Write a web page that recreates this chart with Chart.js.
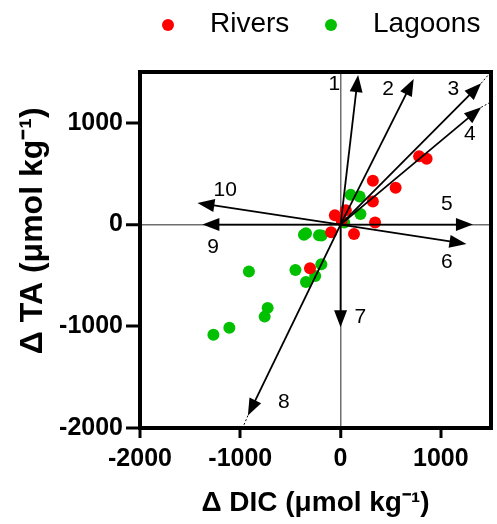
<!DOCTYPE html>
<html><head><meta charset="utf-8">
<script src="https://cdn.jsdelivr.net/npm/chart.js@4/dist/chart.umd.min.js"></script>
<style>html,body{margin:0;padding:0;background:#fff}#wrap{width:497px;height:524px;position:relative}</style>
</head><body><div id="wrap"><canvas id="c"></canvas></div>
<script>
// ---- data ----
const seriesNames = ['Rivers', 'Lagoons'];
const riversDIC = [783, 858, 322, 549, 322, 344, -57, 52, 10, -94, 134, -305];
const riversTA  = [672, 648, 430, 362, 227, 20, 92, 140, 40, -76, -92, -430];
const lagoonsDIC = [101, 190, 198, 36, -345, -365, -215, -190, -914, -450, -192, -253, -345, -727, -757, -1109, -1268];
const lagoonsTA  = [292, 275, 105, 20, -85, -100, -105, -108, -462, -447, -390, -505, -565, -819, -905, -1015, -1083];
const arrowNames = ['1','2','3','4','5','6','7','8','9','10'];
const arrowDIC = [175, 729, 1402, 1402, 1320, 1255, 0, -924, -1378, -1427];
const arrowTA  = [1470, 1432, 1389, 1153, 0, -190, -1010, -1878, 0, 213];
const extDIC = [null, null, 1480, 1480, null, null, null, -975, null, null];
const extTA  = [null, null, 1480, 1195, null, null, null, -1995, null, null];
const labelDIC = [-61, 475, 1125, 1288, 1060, 1060, 198, -566, -1271, -1151];
const labelTA  = [1383, 1334, 1334, 892, 203, -370, -911, -1747, -223, 334];
const xTicks = [-2000, -1000, 0, 1000];
const yTicks = [-2000, -1000, 0, 1000];
const xTitle = 'Δ DIC (μmol kg⁻¹)';
const yTitle = '\u2002\u2002\u2009Δ TA (μmol kg⁻¹)';

const FONT = '"Liberation Sans", Arial, sans-serif';
const toPts = (xs, ys) => xs.map((x, i) => ({x, y: ys[i]}));

const framePlugin = {
  id: 'frame',
  beforeDatasetsDraw(chart) {
    const {ctx, chartArea: a} = chart;
    ctx.save();
    ctx.strokeStyle = '#000'; ctx.lineWidth = 4; ctx.lineCap = 'square';
    ctx.beginPath();
    ctx.moveTo(a.left, a.top); ctx.lineTo(a.right, a.top); ctx.lineTo(a.right, a.bottom);
    ctx.stroke();
    ctx.restore();
  }
};

const arrowPlugin = {
  id: 'arrows',
  afterDatasetsDraw(chart) {
    const {ctx} = chart;
    const xs = chart.scales.x, ys = chart.scales.y;
    const ox = xs.getPixelForValue(0), oy = ys.getPixelForValue(0);
    ctx.save();
    arrowNames.forEach((name, i) => {
      const tx = xs.getPixelForValue(arrowDIC[i]), ty = ys.getPixelForValue(arrowTA[i]);
      const ang = Math.atan2(ty - oy, tx - ox);
      const L = 17, W = 6.5;
      const c = Math.cos(ang), s = Math.sin(ang);
      const bx = tx - L * c, by = ty - L * s;
      ctx.strokeStyle = '#000'; ctx.fillStyle = '#000';
      ctx.lineWidth = 1.8; ctx.setLineDash([]);
      ctx.beginPath(); ctx.moveTo(ox, oy); ctx.lineTo(bx + 2 * c, by + 2 * s); ctx.stroke();
      ctx.beginPath();
      ctx.moveTo(tx, ty);
      ctx.lineTo(bx - W * s, by + W * c);
      ctx.lineTo(bx + W * s, by - W * c);
      ctx.closePath(); ctx.fill();
      if (extDIC[i] !== null) {
        const ex = xs.getPixelForValue(extDIC[i]), ey = ys.getPixelForValue(extTA[i]);
        ctx.lineWidth = 1; ctx.setLineDash([2, 2]);
        ctx.beginPath(); ctx.moveTo(tx, ty); ctx.lineTo(ex, ey); ctx.stroke();
        ctx.setLineDash([]);
      }
      ctx.font = '21px ' + FONT;
      ctx.textAlign = 'center'; ctx.textBaseline = 'middle';
      ctx.fillText(name, xs.getPixelForValue(labelDIC[i]), ys.getPixelForValue(labelTA[i]));
    });
    ctx.restore();
  }
};

const legendPlugin = {
  id: 'legendTop',
  afterDraw(chart) {
    const {ctx} = chart;
    const pos = [{dot: 168, text: 210, y: 24}, {dot: 331, text: 373, y: 24}];
    ctx.save();
    chart.data.datasets.forEach((ds, i) => {
      const p = pos[i];
      ctx.fillStyle = ds.backgroundColor;
      ctx.beginPath(); ctx.arc(p.dot, p.y + 1, 6, 0, Math.PI * 2); ctx.fill();
      ctx.fillStyle = '#000';
      ctx.font = '28px ' + FONT;
      ctx.textAlign = 'left'; ctx.textBaseline = 'middle';
      ctx.fillText(ds.label, p.text, p.y);
    });
    ctx.restore();
  }
};

const zeroGrid = {
  drawOnChartArea: true,
  color: c => (c.tick && c.tick.value === 0) ? '#6e6e6e' : 'rgba(0,0,0,0)',
  lineWidth: c => (c.tick && c.tick.value === 0) ? 1.5 : 0,
  tickColor: '#000', tickWidth: 3, drawTicks: true
};
const plainTick = v => String(v);

new Chart(document.getElementById('c'), {
  type: 'scatter',
  data: {
    datasets: [
      {label: seriesNames[0], data: toPts(riversDIC, riversTA), backgroundColor: '#ff0000', borderWidth: 0, pointRadius: 6, pointHoverRadius: 6},
      {label: seriesNames[1], data: toPts(lagoonsDIC, lagoonsTA), backgroundColor: '#00c000', borderWidth: 0, pointRadius: 6, pointHoverRadius: 6}
    ]
  },
  options: {
    responsive: true, maintainAspectRatio: false, animation: false,
    layout: {padding: {top: 72, right: 2, left: 0, bottom: 0}},
    plugins: {legend: {display: false}, tooltip: {enabled: false}},
    scales: {
      x: {
        type: 'linear', position: 'bottom', min: -2000, max: 1500,
        afterBuildTicks: s => { s.ticks = xTicks.map(v => ({value: v})); },
        afterFit: s => { s.height = 96; },
        ticks: {callback: plainTick, font: {family: FONT, weight: 'bold', size: 25}, color: '#000', padding: 6, maxRotation: 0, autoSkip: false, includeBounds: false},
        grid: Object.assign({}, zeroGrid, {tickLength: 10}),
        border: {display: true, color: '#000', width: 4},
        title: {display: true, text: xTitle, color: '#000', font: {family: FONT, weight: 'bold', size: 28}, padding: {top: 0, bottom: 4}}
      },
      y: {
        type: 'linear', position: 'left', min: -2000, max: 1500,
        afterBuildTicks: s => { s.ticks = yTicks.map(v => ({value: v})); },
        afterFit: s => { s.width = 140; },
        ticks: {callback: plainTick, font: {family: FONT, weight: 'bold', size: 25}, color: '#000', padding: 3, autoSkip: false, includeBounds: false},
        grid: Object.assign({}, zeroGrid, {tickLength: 14}),
        border: {display: true, color: '#000', width: 4},
        title: {display: true, text: yTitle, color: '#000', font: {family: FONT, weight: 'bold', size: 32}, padding: {top: 14, bottom: 0}}
      }
    }
  },
  plugins: [framePlugin, arrowPlugin, legendPlugin]
});
</script>
</body></html>
